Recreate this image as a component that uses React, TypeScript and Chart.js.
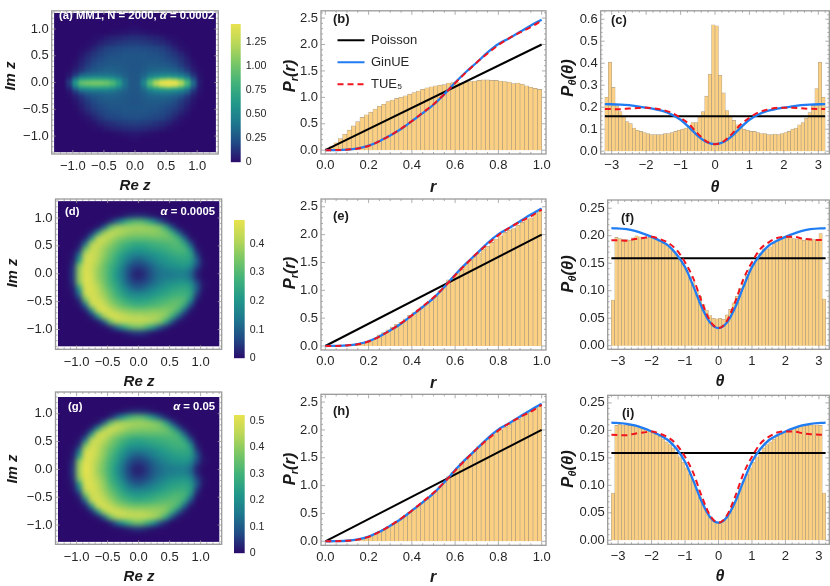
import { useEffect, useRef } from "react";
import { Chart, registerables } from "chart.js";

Chart.register(...registerables);

const FONT = "'Liberation Sans', Arial, sans-serif";
const TEXT = "#262626";
const FRAME = "#9a9a9a";

// shared axis ticks
const heatTicks = [-1, -0.5, 0, 0.5, 1];
const rTicks = [0, 0.2, 0.4, 0.6, 0.8, 1];
const rValueTicks = [0, 0.5, 1, 1.5, 2, 2.5];
const thetaTicks = [-3, -2, -1, 0, 1, 2, 3];
const thetaValueTicksC = [0, 0.1, 0.2, 0.3, 0.4, 0.5, 0.6];
const thetaValueTicksF = [0, 0.05, 0.1, 0.15, 0.2, 0.25];

// histogram bin centres
const rBins = [0.01, 0.03, 0.05, 0.07, 0.09, 0.11, 0.13, 0.15, 0.17, 0.19, 0.21, 0.23, 0.25, 0.27, 0.29, 0.31, 0.33, 0.35, 0.37, 0.39, 0.41, 0.43, 0.45, 0.47, 0.49, 0.51, 0.53, 0.55, 0.57, 0.59, 0.61, 0.63, 0.65, 0.67, 0.69, 0.71, 0.73, 0.75, 0.77, 0.79, 0.81, 0.83, 0.85, 0.87, 0.89, 0.91, 0.93, 0.95, 0.97, 0.99];
const thetaBins = [-3.15, -3.05, -2.95, -2.85, -2.75, -2.65, -2.55, -2.45, -2.35, -2.25, -2.15, -2.05, -1.95, -1.85, -1.75, -1.65, -1.55, -1.45, -1.35, -1.25, -1.15, -1.05, -0.95, -0.85, -0.75, -0.65, -0.55, -0.45, -0.35, -0.25, -0.15, -0.05, 0.05, 0.15, 0.25, 0.35, 0.45, 0.55, 0.65, 0.75, 0.85, 0.95, 1.05, 1.15, 1.25, 1.35, 1.45, 1.55, 1.65, 1.75, 1.85, 1.95, 2.05, 2.15, 2.25, 2.35, 2.45, 2.55, 2.65, 2.75, 2.85, 2.95, 3.05, 3.15];

const barsB = [0.03, 0.08, 0.14, 0.22, 0.3, 0.38, 0.46, 0.54, 0.62, 0.67, 0.72, 0.78, 0.83, 0.87, 0.92, 0.95, 0.98, 1.0, 1.03, 1.06, 1.09, 1.12, 1.15, 1.18, 1.2, 1.22, 1.23, 1.24, 1.27, 1.28, 1.28, 1.27, 1.29, 1.3, 1.31, 1.32, 1.33, 1.33, 1.32, 1.32, 1.31, 1.3, 1.29, 1.26, 1.27, 1.25, 1.22, 1.19, 1.17, 1.15];
const barsE = [0, 0, 0, 0.01, 0.01, 0.02, 0.02, 0.04, 0.06, 0.08, 0.11, 0.14, 0.2, 0.24, 0.29, 0.34, 0.39, 0.43, 0.49, 0.55, 0.6, 0.65, 0.71, 0.77, 0.83, 0.9, 0.99, 1.08, 1.19, 1.23, 1.3, 1.38, 1.46, 1.54, 1.62, 1.67, 1.74, 1.79, 1.86, 1.92, 1.98, 2.04, 2.08, 2.11, 2.17, 2.22, 2.27, 2.3, 2.38, 2.44];
const barsH = [0, 0, 0, 0.005, 0.01, 0.015, 0.025, 0.04, 0.055, 0.075, 0.1, 0.14, 0.175, 0.22, 0.265, 0.31, 0.36, 0.41, 0.47, 0.52, 0.58, 0.64, 0.7, 0.76, 0.82, 0.9, 0.98, 1.07, 1.16, 1.24, 1.32, 1.4, 1.47, 1.54, 1.62, 1.71, 1.77, 1.83, 1.9, 1.96, 2.0, 2.05, 2.1, 2.15, 2.19, 2.25, 2.3, 2.34, 2.39, 2.44];
const barsC = [0.245, 0.405, 0.29, 0.205, 0.18, 0.155, 0.135, 0.125, 0.105, 0.095, 0.09, 0.085, 0.08, 0.075, 0.075, 0.075, 0.075, 0.08, 0.08, 0.085, 0.09, 0.095, 0.1, 0.105, 0.115, 0.13, 0.13, 0.155, 0.18, 0.25, 0.35, 0.575, 0.57, 0.345, 0.265, 0.185, 0.16, 0.14, 0.12, 0.11, 0.1, 0.095, 0.09, 0.09, 0.085, 0.08, 0.08, 0.075, 0.075, 0.078, 0.075, 0.08, 0.085, 0.09, 0.1, 0.105, 0.12, 0.13, 0.15, 0.175, 0.21, 0.285, 0.405, 0.245];
const barsF = [0.083, 0.197, 0.195, 0.193, 0.193, 0.192, 0.196, 0.2, 0.198, 0.195, 0.196, 0.197, 0.197, 0.195, 0.19, 0.186, 0.183, 0.178, 0.172, 0.165, 0.16, 0.15, 0.14, 0.125, 0.115, 0.1, 0.09, 0.075, 0.065, 0.055, 0.05, 0.049, 0.05, 0.048, 0.056, 0.066, 0.078, 0.09, 0.105, 0.118, 0.13, 0.14, 0.15, 0.16, 0.168, 0.176, 0.176, 0.18, 0.186, 0.19, 0.195, 0.198, 0.197, 0.197, 0.195, 0.194, 0.195, 0.192, 0.195, 0.195, 0.193, 0.194, 0.204, 0.085];
const barsI = [0.086, 0.209, 0.211, 0.21, 0.21, 0.209, 0.208, 0.207, 0.205, 0.204, 0.201, 0.199, 0.196, 0.193, 0.189, 0.184, 0.179, 0.174, 0.168, 0.16, 0.152, 0.142, 0.132, 0.12, 0.108, 0.093, 0.079, 0.066, 0.053, 0.043, 0.036, 0.032, 0.032, 0.036, 0.043, 0.053, 0.066, 0.08, 0.094, 0.108, 0.12, 0.132, 0.142, 0.152, 0.16, 0.168, 0.174, 0.179, 0.184, 0.189, 0.193, 0.196, 0.199, 0.201, 0.204, 0.205, 0.207, 0.208, 0.209, 0.21, 0.21, 0.21, 0.209, 0.086];

// theory curves
const rGrid = [0, 0.05, 0.1, 0.15, 0.2, 0.25, 0.3, 0.35, 0.4, 0.45, 0.5, 0.55, 0.6, 0.65, 0.7, 0.75, 0.8, 0.85, 0.9, 0.95, 1];
const rGinue = [0, 0.002, 0.01, 0.035, 0.085, 0.17, 0.28, 0.4, 0.55, 0.7, 0.86, 1.06, 1.28, 1.48, 1.66, 1.85, 2.01, 2.12, 2.24, 2.36, 2.47];
const rTue = [0, 0.002, 0.01, 0.03, 0.08, 0.17, 0.28, 0.41, 0.55, 0.71, 0.87, 1.06, 1.27, 1.47, 1.66, 1.83, 1.99, 2.12, 2.23, 2.33, 2.45];
const rPoissonX = [0, 1];
const rPoissonY = [0, 2];

const thetaGrid = [-3.2, -2.75, -2.5, -2.25, -2, -1.75, -1.5, -1.25, -1, -0.75, -0.5, -0.25, 0, 0.25, 0.5, 0.75, 1, 1.25, 1.5, 1.75, 2, 2.25, 2.5, 2.75, 3.2];
const thetaGinue = [0.214, 0.212, 0.209, 0.204, 0.198, 0.191, 0.182, 0.166, 0.143, 0.108, 0.07, 0.042, 0.032, 0.042, 0.07, 0.108, 0.143, 0.166, 0.182, 0.191, 0.198, 0.204, 0.209, 0.212, 0.214];
const thetaTue = [0.192, 0.191, 0.194, 0.196, 0.198, 0.194, 0.187, 0.174, 0.152, 0.122, 0.08, 0.045, 0.032, 0.045, 0.08, 0.122, 0.152, 0.176, 0.188, 0.196, 0.198, 0.198, 0.195, 0.193, 0.192];
const thetaPoissonX = [-3.2, 3.2];
const thetaPoissonY = [0.159, 0.159];

// density maps, values in hundredths
const heatCols = [-1.15, -1.05, -0.95, -0.85, -0.75, -0.65, -0.55, -0.45, -0.35, -0.25, -0.15, -0.05, 0.05, 0.15, 0.25, 0.35, 0.45, 0.55, 0.65, 0.75, 0.85, 0.95, 1.05, 1.15];
const heatRows = [1.15, 1.05, 0.95, 0.85, 0.75, 0.65, 0.55, 0.45, 0.35, 0.25, 0.15, 0.05, -0.05, -0.15, -0.25, -0.35, -0.45, -0.55, -0.65, -0.75, -0.85, -0.95, -1.05, -1.15];
const heatRowsA = [1.15, 1.05, 0.95, 0.85, 0.75, 0.65, 0.55, 0.45, 0.35, 0.25, 0.17, 0.11, 0.06, 0.02, -0.02, -0.06, -0.11, -0.17, -0.25, -0.35, -0.45, -0.55, -0.65, -0.75, -0.85, -0.95, -1.05, -1.15];

const heatA = [
  [0, 0, 0, 0, 0, 0, 0, 0, 0, 0, 0, 0, 0, 0, 0, 0, 0, 0, 0, 0, 0, 0, 0, 0],
  [0, 0, 0, 0, 0, 0, 0, 0, 0, 0, 0, 1, 1, 0, 0, 0, 0, 0, 0, 0, 0, 0, 0, 0],
  [0, 0, 0, 0, 0, 0, 0, 0, 1, 2, 3, 4, 4, 3, 2, 1, 0, 0, 0, 0, 0, 0, 0, 0],
  [0, 0, 0, 0, 0, 1, 2, 5, 7, 8, 10, 11, 11, 10, 8, 7, 5, 2, 1, 0, 0, 0, 0, 0],
  [0, 0, 0, 0, 1, 3, 7, 10, 12, 14, 15, 16, 16, 15, 14, 12, 10, 7, 3, 1, 0, 0, 0, 0],
  [0, 0, 0, 1, 3, 8, 13, 17, 19, 20, 21, 22, 22, 21, 20, 19, 17, 13, 8, 3, 1, 0, 0, 0],
  [0, 0, 0, 3, 8, 13, 17, 20, 22, 23, 24, 24, 24, 24, 23, 22, 20, 17, 13, 8, 3, 0, 0, 0],
  [0, 0, 1, 6, 12, 17, 20, 23, 25, 25, 26, 25, 25, 26, 25, 25, 23, 20, 17, 12, 6, 1, 0, 0],
  [0, 0, 3, 9, 15, 20, 24, 26, 27, 27, 26, 24, 24, 26, 28, 28, 27, 25, 21, 15, 9, 3, 0, 0],
  [0, 1, 6, 13, 20, 25, 28, 30, 30, 29, 27, 25, 25, 28, 31, 32, 33, 32, 29, 23, 14, 5, 1, 0],
  [0, 3, 13, 26, 33, 35, 36, 37, 36, 33, 29, 26, 26, 31, 39, 43, 45, 45, 43, 38, 28, 11, 2, 0],
  [0, 6, 28, 48, 52, 54, 54, 54, 50, 42, 32, 26, 26, 35, 52, 62, 68, 72, 66, 58, 42, 18, 3, 0],
  [0, 12, 48, 75, 80, 82, 82, 80, 72, 56, 36, 26, 26, 42, 78, 100, 118, 126, 118, 100, 70, 28, 4, 0],
  [0, 15, 60, 95, 100, 102, 102, 98, 88, 66, 38, 26, 26, 48, 90, 122, 146, 158, 145, 122, 84, 34, 5, 0],
  [0, 15, 60, 95, 100, 102, 102, 98, 88, 66, 38, 26, 26, 48, 90, 122, 146, 158, 145, 122, 84, 34, 5, 0],
  [0, 12, 48, 75, 80, 82, 82, 80, 72, 56, 36, 26, 26, 42, 78, 100, 118, 126, 118, 100, 70, 28, 4, 0],
  [0, 6, 28, 48, 52, 54, 54, 54, 50, 42, 32, 26, 26, 35, 52, 62, 68, 72, 66, 58, 42, 18, 3, 0],
  [0, 3, 13, 26, 33, 35, 36, 37, 36, 33, 29, 26, 26, 31, 39, 43, 45, 45, 43, 38, 28, 11, 2, 0],
  [0, 1, 6, 13, 20, 25, 28, 30, 30, 29, 27, 25, 25, 28, 31, 32, 33, 32, 29, 23, 14, 5, 1, 0],
  [0, 0, 3, 9, 15, 20, 24, 26, 27, 27, 26, 24, 24, 26, 28, 28, 27, 25, 21, 15, 9, 3, 0, 0],
  [0, 0, 1, 6, 12, 17, 20, 23, 25, 25, 26, 25, 25, 26, 25, 25, 23, 20, 17, 12, 6, 1, 0, 0],
  [0, 0, 0, 3, 8, 13, 17, 20, 22, 23, 24, 24, 24, 24, 23, 22, 20, 17, 13, 8, 3, 0, 0, 0],
  [0, 0, 0, 1, 3, 8, 13, 17, 19, 20, 21, 22, 22, 21, 20, 19, 17, 13, 8, 3, 1, 0, 0, 0],
  [0, 0, 0, 0, 1, 3, 7, 10, 12, 14, 15, 16, 16, 15, 14, 12, 10, 7, 3, 1, 0, 0, 0, 0],
  [0, 0, 0, 0, 0, 1, 2, 5, 7, 8, 10, 11, 11, 10, 8, 7, 5, 2, 1, 0, 0, 0, 0, 0],
  [0, 0, 0, 0, 0, 0, 0, 0, 1, 2, 3, 4, 4, 3, 2, 1, 0, 0, 0, 0, 0, 0, 0, 0],
  [0, 0, 0, 0, 0, 0, 0, 0, 0, 0, 0, 1, 1, 0, 0, 0, 0, 0, 0, 0, 0, 0, 0, 0],
  [0, 0, 0, 0, 0, 0, 0, 0, 0, 0, 0, 0, 0, 0, 0, 0, 0, 0, 0, 0, 0, 0, 0, 0],
];

const heatD = [
  [0, 0, 0, 0, 0, 0, 0, 0, 0, 0, 0, 0, 0, 0, 0, 0, 0, 0, 0, 0, 0, 0, 0, 0],
  [0, 0, 0, 0, 0, 0, 0, 0, 0, 1, 3, 4, 4, 3, 1, 0, 0, 0, 0, 0, 0, 0, 0, 0],
  [0, 0, 0, 0, 0, 0, 0, 3, 10, 19, 27, 30, 30, 26, 19, 9, 3, 0, 0, 0, 0, 0, 0, 0],
  [0, 0, 0, 0, 0, 1, 9, 30, 38, 39, 39, 39, 39, 38, 37, 34, 24, 8, 1, 0, 0, 0, 0, 0],
  [0, 0, 0, 0, 3, 18, 37, 43, 42, 40, 38, 37, 37, 37, 37, 36, 34, 26, 11, 2, 0, 0, 0, 0],
  [0, 0, 0, 2, 18, 42, 44, 41, 37, 35, 33, 32, 32, 32, 33, 33, 33, 32, 27, 11, 1, 0, 0, 0],
  [0, 0, 1, 12, 40, 44, 41, 37, 33, 29, 27, 25, 25, 26, 27, 28, 29, 30, 30, 24, 8, 0, 0, 0],
  [0, 0, 4, 33, 44, 43, 38, 34, 30, 26, 23, 21, 21, 22, 24, 25, 26, 28, 29, 29, 19, 2, 0, 0],
  [0, 1, 13, 43, 45, 42, 37, 32, 27, 22, 18, 16, 16, 17, 19, 21, 23, 25, 26, 26, 24, 6, 0, 0],
  [0, 2, 22, 45, 45, 41, 35, 30, 25, 19, 14, 10, 10, 13, 16, 19, 20, 22, 23, 24, 22, 10, 1, 0],
  [0, 4, 36, 46, 44, 39, 33, 28, 23, 16, 9, 6, 6, 8, 12, 15, 18, 19, 20, 21, 18, 7, 1, 0],
  [0, 5, 38, 47, 44, 38, 33, 27, 21, 14, 7, 3, 3, 6, 10, 13, 14, 15, 16, 16, 12, 3, 0, 0],
  [0, 5, 38, 47, 45, 38, 33, 27, 21, 14, 7, 3, 3, 6, 10, 13, 14, 15, 16, 16, 12, 3, 0, 0],
  [0, 4, 36, 47, 45, 40, 34, 28, 23, 16, 9, 6, 6, 8, 12, 15, 18, 19, 20, 21, 18, 7, 1, 0],
  [0, 2, 22, 46, 46, 42, 36, 30, 25, 19, 14, 10, 10, 13, 16, 19, 21, 23, 24, 25, 22, 10, 1, 0],
  [0, 1, 13, 44, 46, 43, 38, 33, 27, 23, 18, 17, 17, 18, 20, 22, 24, 26, 27, 27, 24, 6, 0, 0],
  [0, 0, 4, 34, 46, 45, 41, 35, 31, 27, 24, 22, 22, 23, 25, 27, 28, 30, 31, 30, 19, 2, 0, 0],
  [0, 0, 1, 12, 42, 46, 44, 39, 35, 31, 29, 27, 27, 28, 29, 30, 32, 33, 32, 25, 8, 0, 0, 0],
  [0, 0, 0, 2, 19, 44, 47, 44, 40, 38, 36, 35, 35, 35, 36, 36, 36, 34, 28, 11, 1, 0, 0, 0],
  [0, 0, 0, 0, 3, 19, 39, 46, 46, 44, 42, 41, 41, 40, 40, 39, 36, 27, 11, 2, 0, 0, 0, 0],
  [0, 0, 0, 0, 0, 1, 9, 32, 41, 43, 43, 43, 43, 42, 40, 36, 25, 8, 1, 0, 0, 0, 0, 0],
  [0, 0, 0, 0, 0, 0, 0, 3, 11, 21, 29, 33, 33, 28, 20, 9, 3, 0, 0, 0, 0, 0, 0, 0],
  [0, 0, 0, 0, 0, 0, 0, 0, 0, 1, 3, 5, 5, 3, 1, 0, 0, 0, 0, 0, 0, 0, 0, 0],
  [0, 0, 0, 0, 0, 0, 0, 0, 0, 0, 0, 0, 0, 0, 0, 0, 0, 0, 0, 0, 0, 0, 0, 0],
];

const heatG = [
  [0, 0, 0, 0, 0, 0, 0, 0, 0, 0, 0, 0, 0, 0, 0, 0, 0, 0, 0, 0, 0, 0, 0, 0],
  [0, 0, 0, 0, 0, 0, 0, 0, 0, 1, 3, 4, 4, 3, 1, 0, 0, 0, 0, 0, 0, 0, 0, 0],
  [0, 0, 0, 0, 0, 0, 0, 3, 11, 21, 29, 33, 33, 28, 20, 10, 3, 0, 0, 0, 0, 0, 0, 0],
  [0, 0, 0, 0, 0, 1, 10, 33, 42, 43, 43, 42, 42, 41, 39, 36, 25, 8, 1, 0, 0, 0, 0, 0],
  [0, 0, 0, 0, 3, 20, 41, 48, 47, 44, 41, 40, 39, 39, 39, 38, 36, 27, 11, 2, 0, 0, 0, 0],
  [0, 0, 0, 2, 20, 46, 49, 45, 41, 38, 35, 34, 34, 34, 34, 34, 34, 33, 28, 11, 1, 0, 0, 0],
  [0, 0, 1, 13, 44, 49, 45, 40, 35, 31, 28, 26, 26, 27, 28, 29, 30, 31, 31, 25, 8, 0, 0, 0],
  [0, 0, 4, 36, 49, 47, 42, 37, 32, 27, 23, 22, 22, 23, 25, 26, 27, 29, 30, 30, 20, 2, 0, 0],
  [0, 1, 14, 47, 50, 46, 40, 34, 29, 23, 18, 16, 16, 17, 19, 22, 24, 26, 27, 27, 25, 6, 0, 0],
  [0, 2, 24, 50, 50, 45, 39, 32, 26, 20, 14, 10, 10, 13, 16, 19, 21, 23, 24, 25, 23, 10, 1, 0],
  [0, 4, 40, 51, 49, 43, 37, 30, 24, 16, 9, 6, 6, 8, 12, 15, 18, 20, 21, 22, 19, 7, 1, 0],
  [0, 5, 42, 52, 49, 42, 36, 29, 22, 14, 7, 3, 3, 6, 10, 13, 15, 16, 17, 17, 13, 3, 0, 0],
  [0, 5, 42, 52, 49, 42, 36, 29, 22, 14, 7, 3, 3, 6, 10, 13, 15, 16, 17, 17, 13, 3, 0, 0],
  [0, 4, 40, 51, 49, 44, 38, 30, 24, 16, 9, 6, 6, 8, 12, 15, 18, 20, 21, 22, 19, 7, 1, 0],
  [0, 2, 24, 50, 50, 46, 40, 32, 26, 21, 14, 10, 10, 13, 16, 19, 22, 24, 25, 26, 23, 10, 1, 0],
  [0, 1, 14, 47, 50, 47, 41, 35, 30, 24, 19, 17, 17, 18, 20, 23, 25, 27, 28, 28, 25, 6, 0, 0],
  [0, 0, 4, 36, 49, 48, 44, 38, 33, 28, 25, 23, 23, 24, 26, 28, 29, 31, 32, 31, 20, 2, 0, 0],
  [0, 0, 1, 13, 45, 50, 46, 42, 37, 33, 30, 28, 28, 29, 30, 32, 33, 34, 33, 26, 8, 0, 0, 0],
  [0, 0, 0, 2, 20, 47, 50, 47, 43, 40, 38, 37, 37, 37, 38, 38, 38, 35, 29, 11, 1, 0, 0, 0],
  [0, 0, 0, 0, 3, 20, 42, 49, 49, 47, 45, 44, 44, 43, 42, 41, 38, 28, 11, 2, 0, 0, 0, 0],
  [0, 0, 0, 0, 0, 1, 10, 34, 44, 46, 46, 46, 46, 45, 43, 38, 26, 8, 1, 0, 0, 0, 0, 0],
  [0, 0, 0, 0, 0, 0, 0, 3, 12, 22, 30, 35, 35, 29, 21, 9, 3, 0, 0, 0, 0, 0, 0, 0],
  [0, 0, 0, 0, 0, 0, 0, 0, 0, 1, 3, 5, 5, 3, 1, 0, 0, 0, 0, 0, 0, 0, 0, 0],
  [0, 0, 0, 0, 0, 0, 0, 0, 0, 0, 0, 0, 0, 0, 0, 0, 0, 0, 0, 0, 0, 0, 0, 0],
];

// colour bars
const barTicksA = [0, 0.25, 0.5, 0.75, 1, 1.25];
const barLabelsA = ["0", "0.25", "0.50", "0.75", "1.00", "1.25"];
const barTicksD = [0, 0.1, 0.2, 0.3, 0.4];
const barLabelsD = ["0", "0.1", "0.2", "0.3", "0.4"];
const barTicksG = [0, 0.1, 0.2, 0.3, 0.4, 0.5];
const barLabelsG = ["0", "0.1", "0.2", "0.3", "0.4", "0.5"];

const ramp: [number, number, number][] = [
  [42, 11, 107], [33, 75, 133], [30, 120, 142], [33, 152, 138], [65, 178, 122], [120, 198, 102], [185, 215, 88], [232, 226, 78],
];

function rampColor(t: number) {
  const p = Math.min(Math.max(t, 0), 1) * (ramp.length - 1);
  const i = Math.min(Math.floor(p), ramp.length - 2);
  const f = p - i;
  const c = ramp[i].map((v, k) => Math.round(v + (ramp[i + 1][k] - v) * f));
  return `rgb(${c[0]},${c[1]},${c[2]})`;
}

type Run = { t: string; italic?: boolean; sub?: boolean };
type Label = { runs: Run[]; x: number; y: number; size: number; color?: string; align?: "left" | "center" | "right"; rotate?: boolean };
type Box = { l: number; t: number; r: number; b: number };

function drawLabel(ctx: CanvasRenderingContext2D, lab: Label) {
  const fontOf = (run: Run) => `${run.italic ? "italic " : ""}bold ${run.sub ? lab.size * 0.66 : lab.size}px ${FONT}`;
  let total = 0;
  lab.runs.forEach((run) => {
    ctx.font = fontOf(run);
    total += ctx.measureText(run.t).width;
  });
  ctx.save();
  ctx.translate(lab.x, lab.y);
  if (lab.rotate) ctx.rotate(-Math.PI / 2);
  ctx.fillStyle = lab.color || "#1a1a1a";
  ctx.textBaseline = "alphabetic";
  ctx.textAlign = "left";
  let x = lab.align === "left" ? 0 : lab.align === "right" ? -total : -total / 2;
  lab.runs.forEach((run) => {
    ctx.font = fontOf(run);
    ctx.fillText(run.t, x, lab.size * 0.35 + (run.sub ? lab.size * 0.22 : 0));
    x += ctx.measureText(run.t).width;
  });
  ctx.restore();
}

function minorValues(min: number, max: number, step: number) {
  const out: number[] = [];
  for (let k = Math.ceil(min / step - 1e-6); k * step <= max + 1e-9; k++) out.push(k * step);
  return out;
}

// frame with inward Mathematica style ticks, plus all the free text of a panel
function framePlugin(majorX: number[], majorY: number[], minorX: number, minorY: number, labels: Label[]) {
  return {
    id: "frame",
    afterDraw(chart: any) {
      const { ctx, chartArea: a, scales } = chart;
      ctx.save();
      ctx.strokeStyle = FRAME;
      ctx.lineWidth = 0.8;
      const sx = scales.x;
      const sy = scales.y;
      const tick = (x1: number, y1: number, x2: number, y2: number) => {
        ctx.beginPath();
        ctx.moveTo(x1, y1);
        ctx.lineTo(x2, y2);
        ctx.stroke();
      };
      minorValues(sx.min, sx.max, minorX).forEach((v) => {
        const p = sx.getPixelForValue(v);
        const len = majorX.some((m) => Math.abs(m - v) < 1e-6) ? 4 : 2;
        tick(p, a.bottom, p, a.bottom - len);
        tick(p, a.top, p, a.top + len);
      });
      minorValues(sy.min, sy.max, minorY).forEach((v) => {
        const p = sy.getPixelForValue(v);
        const len = majorY.some((m) => Math.abs(m - v) < 1e-6) ? 4 : 2;
        tick(a.left, p, a.left + len, p);
        tick(a.right, p, a.right - len, p);
      });
      ctx.lineWidth = 1.3;
      ctx.strokeRect(a.left, a.top, a.right - a.left, a.bottom - a.top);
      ctx.restore();
      labels.forEach((lab) => drawLabel(ctx, lab));
    },
  };
}

function axisOptions(range: number[], ticks: number[], digits: number, padding = 3) {
  return {
    type: "linear",
    offset: false,
    min: range[0],
    max: range[1],
    grid: { display: false, drawTicks: false, offset: false },
    border: { display: false },
    afterBuildTicks: (s: any) => {
      s.ticks = ticks.map((value) => ({ value }));
    },
    ticks: {
      autoSkip: false,
      maxRotation: 0,
      minRotation: 0,
      padding,
      color: TEXT,
      font: { family: FONT, size: 13 },
      callback: (v: number) => v.toFixed(digits).replace("-", "\u2212"),
    },
  };
}

// the axis boxes take all the room round the frame, so that the frame lands on the page position
function layoutFor(box: Box) {
  return { autoPadding: false, padding: { left: 0, top: box.t, right: 830 - box.r, bottom: 0 } };
}

function fixedScales(box: Box) {
  return {
    x: { afterFit: (s: any) => { s.height = 586 - box.b; } },
    y: { afterFit: (s: any) => { s.width = box.l; } },
  };
}

function zip(xs: number[], ys: number[]) {
  return xs.map((x, i) => ({ x, y: ys[i] }));
}

const legendPlace = {
  id: "legendPlace",
  afterLayout(chart: any) {
    if (chart.legend && chart.options.plugins.legend.display) {
      chart.legend.left += 7.5;
      chart.legend.top += 24.7;
    }
  },
};

type HistProps = {
  box: Box; xRange: number[]; yRange: number[]; xTicks: number[]; yTicks: number[];
  xDigits: number; yDigits: number; minorX: number; minorY: number;
  binX: number[]; bars: number[];
  curveX: number[]; ginue: number[]; tue: number[]; poissonX: number[]; poissonY: number[];
  labels: Label[]; legend?: boolean;
};

function histConfig(p: HistProps): any {
  const curve = { type: "line", pointRadius: 0, borderWidth: 2, fill: false, cubicInterpolationMode: "monotone" };
  const fixed = fixedScales(p.box);
  return {
    type: "bar",
    data: {
      datasets: [
        { ...curve, label: "Poisson", data: zip(p.poissonX, p.poissonY), borderColor: "#000000", cubicInterpolationMode: "default", order: 2 },
        { ...curve, label: "GinUE", data: zip(p.curveX, p.ginue), borderColor: "#1f7cf2", borderWidth: 2.3, order: 1 },
        { ...curve, label: "TUE\u2085", data: zip(p.curveX, p.tue), borderColor: "#f0141e", borderDash: [6, 4], order: 0 },
        {
          label: "hist",
          data: zip(p.binX, p.bars),
          backgroundColor: "#fbd083",
          borderColor: "rgba(150,130,100,0.75)",
          borderWidth: 0.6,
          barPercentage: 1,
          categoryPercentage: 1,
          order: 3,
        },
      ],
    },
    options: {
      responsive: false,
      animation: false,
      layout: layoutFor(p.box),
      scales: {
        x: { ...axisOptions(p.xRange, p.xTicks, p.xDigits, 4), ...fixed.x },
        y: { ...axisOptions(p.yRange, p.yTicks, p.yDigits), ...fixed.y },
      },
      plugins: {
        tooltip: { enabled: false },
        legend: p.legend
          ? {
              display: true,
              position: "chartArea",
              align: "start",
              labels: {
                usePointStyle: true,
                pointStyle: "line",
                pointStyleWidth: 27,
                padding: 9,
                color: TEXT,
                font: { family: FONT, size: 13 },
                filter: (item: any) => item.text !== "hist",
                sort: (a: any, b: any) => a.datasetIndex - b.datasetIndex,
                generateLabels: (chart: any) =>
                  Chart.defaults.plugins.legend.labels.generateLabels(chart).map((item: any) => ({
                    ...item,
                    lineWidth: 2,
                    lineDash: chart.data.datasets[item.datasetIndex].borderDash || [],
                  })),
              },
            }
          : { display: false },
      },
    },
    plugins: [legendPlace, framePlugin(p.xTicks, p.yTicks, p.minorX, p.minorY, p.labels)],
  };
}

type HeatProps = {
  box: Box; rows: number[]; grid: number[][]; top: number; blur: number; labels: Label[]; yRange: number[];
};

function heatConfig(p: HeatProps): any {
  const datasets = p.rows.map((y, r) => {
    const upper = r === 0 ? y + 0.05 : (y + p.rows[r - 1]) / 2;
    const lower = r === p.rows.length - 1 ? y - 0.05 : (y + p.rows[r + 1]) / 2;
    return {
      data: heatCols.map((x, c) => ({ x, y: [lower, upper], v: p.grid[r][c] / 100 })),
      backgroundColor: (ctx: any) => rampColor(ctx.raw ? ctx.raw.v / p.top : 0),
      borderWidth: 0,
      inflateAmount: 0.6,
      barPercentage: 1,
      categoryPercentage: 1,
      grouped: false,
    };
  });
  const imageRect = (chart: any) => {
    const { x, y } = chart.scales;
    const l = x.getPixelForValue(-1.3);
    const t = y.getPixelForValue(1.3);
    return [l, t, x.getPixelForValue(1.3) - l, y.getPixelForValue(-1.3) - t];
  };
  const smooth = {
    id: "smooth",
    beforeDatasetsDraw(chart: any) {
      const [l, t, w, h] = imageRect(chart);
      chart.ctx.fillStyle = rampColor(0);
      chart.ctx.fillRect(l, t, w, h);
    },
    afterDatasetsDraw(chart: any) {
      const [l, t, w, h] = imageRect(chart);
      const { ctx } = chart;
      ctx.save();
      ctx.beginPath();
      ctx.rect(l, t, w, h);
      ctx.clip();
      ctx.filter = `blur(${p.blur}px)`;
      ctx.drawImage(chart.canvas, 0, 0, chart.width, chart.height);
      ctx.restore();
    },
  };
  const fixed = fixedScales(p.box);
  return {
    type: "bar",
    data: { datasets },
    options: {
      responsive: false,
      animation: false,
      layout: layoutFor(p.box),
      scales: {
        x: { ...axisOptions([-1.34, 1.34], heatTicks, 1, 5), ...fixed.x },
        y: { ...axisOptions(p.yRange, heatTicks, 1), ...fixed.y },
      },
      plugins: { legend: { display: false }, tooltip: { enabled: false } },
    },
    plugins: [smooth, framePlugin(heatTicks, heatTicks, 0.1, 0.1, p.labels)],
  };
}

function colorBarConfig(box: Box, top: number, ticks: number[], labels: string[]): any {
  return {
    type: "bar",
    data: {
      labels: [""],
      datasets: [
        {
          data: [[0, top]],
          barPercentage: 1,
          categoryPercentage: 1,
          borderWidth: 0,
          backgroundColor: (ctx: any) => {
            const a = ctx.chart.chartArea;
            if (!a) return rampColor(0);
            const g = ctx.chart.ctx.createLinearGradient(0, a.bottom, 0, a.top);
            ramp.forEach((_, i) => g.addColorStop(i / (ramp.length - 1), rampColor(i / (ramp.length - 1))));
            return g;
          },
        },
      ],
    },
    options: {
      responsive: false,
      animation: false,
      layout: { autoPadding: false, padding: { left: box.l, top: box.t, right: 0, bottom: 586 - box.b } },
      scales: {
        x: { display: false },
        y: {
          type: "linear",
          position: "right",
          min: 0,
          max: top,
          grid: { display: false, drawTicks: false },
          border: { display: false },
          afterFit: (s: any) => { s.width = 830 - box.r; },
          afterBuildTicks: (s: any) => { s.ticks = ticks.map((value) => ({ value })); },
          ticks: {
            autoSkip: false,
            padding: 5,
            color: TEXT,
            font: { family: FONT, size: 10.6 },
            callback: (_: number, i: number) => labels[i],
          },
        },
      },
      plugins: { legend: { display: false }, tooltip: { enabled: false } },
    },
  };
}

const rLabel: Run[] = [{ t: "P", italic: true }, { t: "r", italic: true, sub: true }, { t: "(", italic: true }, { t: "r", italic: true }, { t: ")", italic: true }];
const thetaLabel: Run[] = [{ t: "P", italic: true }, { t: "\u03b8", italic: true, sub: true }, { t: "(", italic: true }, { t: "\u03b8", italic: true }, { t: ")", italic: true }];
const imLabel: Run[] = [{ t: "Im z", italic: true }];
const reLabel: Run[] = [{ t: "Re z", italic: true }];

const white = "#ffffff";
const alpha = (s: string): Run[] => [{ t: "\u03b1", italic: true }, { t: s }];

function heatLabels(xRe: number, yRe: number, xIm: number, yIm: number, extra: Label[]): Label[] {
  return [
    { runs: reLabel, x: xRe, y: yRe, size: 15 },
    { runs: imLabel, x: xIm, y: yIm, size: 15, rotate: true },
    ...extra,
  ];
}

function panelConfigs(): any[] {
  const rBase = {
    xRange: [-0.02, 1.02], xTicks: rTicks, yTicks: rValueTicks, xDigits: 1, yDigits: 1, minorX: 0.05, minorY: 0.1,
    binX: rBins, curveX: rGrid, ginue: rGinue, tue: rTue, poissonX: rPoissonX, poissonY: rPoissonY,
  };
  const tBase = {
    xTicks: thetaTicks, xDigits: 0, minorX: 0.2,
    binX: thetaBins, curveX: thetaGrid, ginue: thetaGinue, tue: thetaTue, poissonX: thetaPoissonX, poissonY: thetaPoissonY,
  };
  return [
    heatConfig({
      box: { l: 51.7, t: 2.3, r: 218.3, b: 154 }, rows: heatRowsA, grid: heatA, top: 1.44, blur: 1.8, yRange: [-1.335, 1.34],
      labels: heatLabels(135, 185, 10, 76, [
        { runs: [{ t: "(a) MM1, N = 2000, " }, ...alpha(" = 0.0002")], x: 59, y: 15, size: 11.3, color: white, align: "left" },
      ]),
    }),
    heatConfig({
      box: { l: 55.5, t: 199, r: 221.7, b: 349.3 }, rows: heatRows, grid: heatD, top: 0.484, blur: 2.6, yRange: [-1.355, 1.34],
      labels: heatLabels(139, 381, 12, 273, [
        { runs: [{ t: "(d)" }], x: 65, y: 211, size: 11.3, color: white, align: "left" },
        { runs: alpha(" = 0.0005"), x: 215, y: 211, size: 11.3, color: white, align: "right" },
      ]),
    }),
    heatConfig({
      box: { l: 55.5, t: 392, r: 221.7, b: 544.3 }, rows: heatRows, grid: heatG, top: 0.523, blur: 2.6, yRange: [-1.345, 1.39],
      labels: heatLabels(139, 576, 12, 469, [
        { runs: [{ t: "(g)" }], x: 68, y: 406, size: 11.3, color: white, align: "left" },
        { runs: alpha(" = 0.05"), x: 215, y: 406, size: 11.3, color: white, align: "right" },
      ]),
    }),
    colorBarConfig({ l: 230.7, t: 24, r: 240.7, b: 162.3 }, 1.44, barTicksA, barLabelsA),
    colorBarConfig({ l: 234, t: 220, r: 244.7, b: 358.3 }, 0.484, barTicksD, barLabelsD),
    colorBarConfig({ l: 234, t: 415, r: 244.7, b: 553.3 }, 0.523, barTicksG, barLabelsG),
    histConfig({
      ...rBase, box: { l: 321, t: 3.3, r: 546, b: 154 }, yRange: [-0.072, 2.638], bars: barsB, legend: true,
      labels: [
        { runs: [{ t: "(b)" }], x: 333, y: 18, size: 13, align: "left" },
        { runs: rLabel, x: 289, y: 76, size: 16.5, rotate: true },
        { runs: [{ t: "r", italic: true }], x: 433, y: 186, size: 16 },
      ],
    }),
    histConfig({
      ...rBase, box: { l: 321, t: 199, r: 546, b: 350 }, yRange: [-0.072, 2.64], bars: barsE,
      labels: [
        { runs: [{ t: "(e)" }], x: 333, y: 215, size: 13, align: "left" },
        { runs: rLabel, x: 289, y: 273, size: 16.5, rotate: true },
        { runs: [{ t: "r", italic: true }], x: 433, y: 382, size: 16 },
      ],
    }),
    histConfig({
      ...rBase, box: { l: 321, t: 394.3, r: 546, b: 545.3 }, yRange: [-0.072, 2.64], bars: barsH,
      labels: [
        { runs: [{ t: "(h)" }], x: 333, y: 410, size: 13, align: "left" },
        { runs: rLabel, x: 289, y: 469, size: 16.5, rotate: true },
        { runs: [{ t: "r", italic: true }], x: 433, y: 576, size: 16 },
      ],
    }),
    histConfig({
      ...tBase, box: { l: 600.7, t: 1, r: 829.3, b: 154 }, xRange: [-3.32, 3.32], yRange: [-0.0128, 0.6383], yTicks: thetaValueTicksC, yDigits: 1, minorY: 0.02, bars: barsC,
      labels: [
        { runs: [{ t: "(c)" }], x: 611, y: 19, size: 13, align: "left" },
        { runs: thetaLabel, x: 567, y: 78, size: 16.5, rotate: true },
        { runs: [{ t: "\u03b8", italic: true }], x: 715, y: 186, size: 16 },
      ],
    }),
    histConfig({
      ...tBase, box: { l: 607.7, t: 200, r: 829.3, b: 349.3 }, xRange: [-3.31, 3.31], yRange: [-0.0065, 0.265], yTicks: thetaValueTicksF, yDigits: 2, minorY: 0.01, bars: barsF,
      labels: [
        { runs: [{ t: "(f)" }], x: 621, y: 217, size: 13, align: "left" },
        { runs: thetaLabel, x: 567, y: 274, size: 16.5, rotate: true },
        { runs: [{ t: "\u03b8", italic: true }], x: 720, y: 380, size: 16 },
      ],
    }),
    histConfig({
      ...tBase, box: { l: 607.7, t: 395.3, r: 829.3, b: 544.3 }, xRange: [-3.31, 3.31], yRange: [-0.0073, 0.2638], yTicks: thetaValueTicksF, yDigits: 2, minorY: 0.01, bars: barsI,
      labels: [
        { runs: [{ t: "(i)" }], x: 622, y: 412, size: 13, align: "left" },
        { runs: thetaLabel, x: 567, y: 469, size: 16.5, rotate: true },
        { runs: [{ t: "\u03b8", italic: true }], x: 720, y: 575, size: 16 },
      ],
    }),
  ];
}

function Panel({ config }: { config: any }) {
  const canvasRef = useRef<HTMLCanvasElement | null>(null);

  useEffect(() => {
    if (!canvasRef.current) return;
    const chart = new Chart(canvasRef.current, config);
    return () => chart.destroy();
  }, [config]);

  return <canvas ref={canvasRef} width={830} height={586} style={{ position: "absolute", left: 0, top: 0, width: 830, height: 586 }} />;
}

const configs = panelConfigs();

export default function App() {
  return (
    <div style={{ position: "fixed", left: 0, top: 0, width: 830, height: 586, background: "#ffffff", overflow: "hidden" }}>
      {configs.map((config, i) => (
        <Panel key={i} config={config} />
      ))}
    </div>
  );
}
